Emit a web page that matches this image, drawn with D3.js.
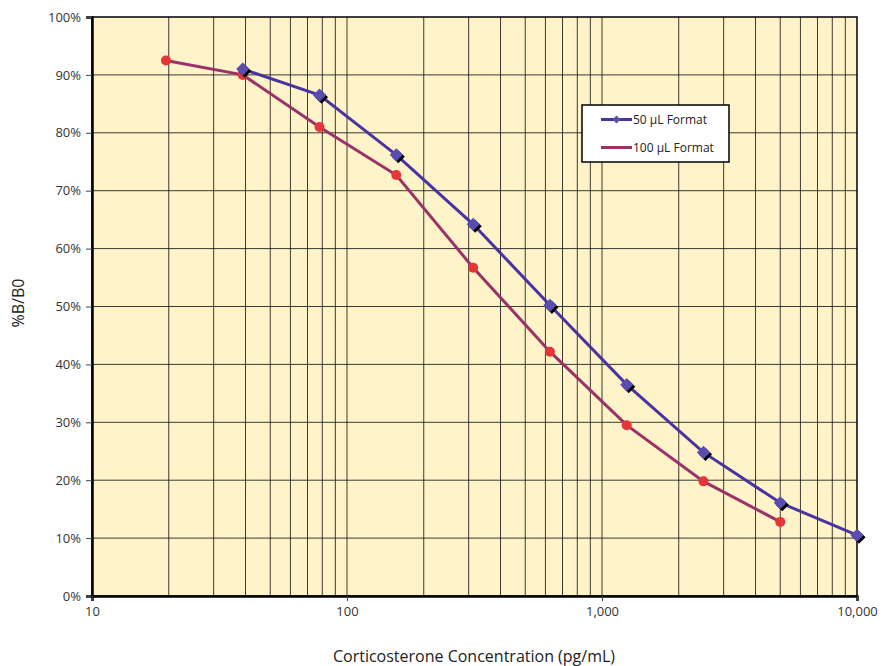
<!DOCTYPE html>
<html>
<head>
<meta charset="utf-8">
<script src="https://cdn.jsdelivr.net/npm/d3@7"></script>
<style>
  body { margin: 0; background: #fff; }
  svg text { font-family: "Open Sans", "Noto Sans", sans-serif; }
</style>
</head>
<body>
<svg id="main-svg" width="883" height="666"></svg>
<script>
// data
let conc50 = [39, 78, 156, 312.5, 625, 1250, 2500, 5000, 10000];
let bb50 = [0.91, 0.865, 0.762, 0.642, 0.502, 0.365, 0.248, 0.161, 0.105];
let conc100 = [19.5, 39, 78, 156, 312.5, 625, 1250, 2500, 5000];
let bb100 = [0.925, 0.90, 0.81, 0.727, 0.567, 0.422, 0.295, 0.198, 0.128];
let xTicks = [10, 100, 1000, 10000];
let yTicks = [0, 0.1, 0.2, 0.3, 0.4, 0.5, 0.6, 0.7, 0.8, 0.9, 1.0];
let legendNames = ["50 \u00b5L Format", "100 \u00b5L Format"];

let svg = d3.select("#main-svg");
let plotL = 92, plotR = 857, plotT = 17, plotB = 596;

let x = d3.scaleLog().domain([10, 10000]).range([plotL, plotR]);
let y = d3.scaleLinear().domain([0, 1]).range([plotB, plotT]);

// plot background
svg.append("rect")
  .attr("x", plotL).attr("y", plotT)
  .attr("width", plotR - plotL).attr("height", plotB - plotT)
  .attr("fill", "#fff4c9");

// minor + major vertical grid
let gridX = [];
for (let d = 10; d < 10000; d *= 10) {
  for (let k = 1; k <= 9; k++) gridX.push(d * k);
}
svg.append("g").selectAll("line")
  .data(gridX.filter(v => v > 10))
  .enter().append("line")
  .attr("x1", d => x(d)).attr("x2", d => x(d))
  .attr("y1", plotT).attr("y2", plotB)
  .attr("stroke", "#1a1a1a").attr("stroke-width", 1).attr("opacity", 0.85);

// horizontal grid
svg.append("g").selectAll("line")
  .data(yTicks.filter(v => v > 0 && v < 1))
  .enter().append("line")
  .attr("x1", plotL).attr("x2", plotR)
  .attr("y1", d => y(d)).attr("y2", d => y(d))
  .attr("stroke", "#1a1a1a").attr("stroke-width", 1).attr("opacity", 0.85);

// frame
svg.append("rect")
  .attr("x", plotL).attr("y", plotT)
  .attr("width", plotR - plotL).attr("height", plotB - plotT)
  .attr("fill", "none").attr("stroke", "#000").attr("stroke-width", 1.5);

// axes
let yAxis = d3.axisLeft(y).tickValues(yTicks).tickSize(6).tickPadding(5)
  .tickFormat(d3.format(".0%"));
let gy = svg.append("g").attr("transform", "translate(" + plotL + ",0)").call(yAxis);
gy.select(".domain").attr("stroke", "#000").attr("stroke-width", 2.5);
gy.selectAll(".tick line").attr("stroke", "#444");
gy.selectAll("text").attr("font-size", 13).attr("fill", "#333")
  .style("font-family", "'Open Sans', sans-serif");

let xAxis = d3.axisBottom(x).tickValues(xTicks).tickSize(5).tickPadding(6)
  .tickFormat(d3.format(","));
let gx = svg.append("g").attr("transform", "translate(0," + plotB + ")").call(xAxis);
gx.select(".domain").attr("stroke", "#000").attr("stroke-width", 2.5);
gx.selectAll(".tick line").attr("stroke", "#444");
gx.selectAll("text").attr("font-size", 13).attr("fill", "#333")
  .style("font-family", "'Open Sans', sans-serif");

// axis titles
svg.append("text")
  .attr("transform", "rotate(-90)")
  .attr("x", -303).attr("y", 24)
  .attr("text-anchor", "middle")
  .attr("font-size", 16).attr("fill", "#222")
  .text("%B/B0");

svg.append("text")
  .attr("x", 474).attr("y", 662)
  .attr("text-anchor", "middle")
  .attr("font-size", 16).attr("fill", "#222")
  .text("Corticosterone Concentration (pg/mL)");

// series
let line = d3.line().x(d => x(d[0])).y(d => y(d[1]));
let pts50 = conc50.map((c, i) => [c, bb50[i]]);
let pts100 = conc100.map((c, i) => [c, bb100[i]]);

let diamond = d3.symbol().type(d3.symbolDiamond2).size(110);

svg.append("path").datum(pts100).attr("d", line)
  .attr("fill", "none").attr("stroke", "#9a3268").attr("stroke-width", 3);
svg.append("g").selectAll("circle").data(pts100).enter().append("circle")
  .attr("cx", d => x(d[0])).attr("cy", d => y(d[1])).attr("r", 5)
  .attr("fill", "#e53538");

svg.append("path").datum(pts50).attr("d", line)
  .attr("fill", "none").attr("stroke", "#4a33a0").attr("stroke-width", 3);
svg.append("g").selectAll("path.sh").data(pts50).enter().append("path")
  .attr("class", "sh").attr("d", diamond)
  .attr("transform", d => "translate(" + (x(d[0]) + 2) + "," + (y(d[1]) + 2) + ")")
  .attr("fill", "#000");
svg.append("g").selectAll("path.dm").data(pts50).enter().append("path")
  .attr("class", "dm").attr("d", diamond)
  .attr("transform", d => "translate(" + x(d[0]) + "," + y(d[1]) + ")")
  .attr("fill", "#5a4db0");

// legend
let lg = svg.append("g").attr("transform", "translate(582,105)");
lg.append("rect").attr("width", 147).attr("height", 57)
  .attr("fill", "#fff").attr("stroke", "#000").attr("stroke-width", 1.5);
let lcol = ["#4a33a0", "#9a3268"];
legendNames.forEach(function (name, i) {
  let ly = 14.5 + i * 28;
  lg.append("line").attr("x1", 19).attr("x2", 50).attr("y1", ly).attr("y2", ly)
    .attr("stroke", lcol[i]).attr("stroke-width", 3);
  if (i == 0) {
    lg.append("path").attr("d", d3.symbol().type(d3.symbolDiamond2).size(40))
      .attr("transform", "translate(34.5," + ly + ")").attr("fill", "#5a4db0");
  }
  lg.append("text").attr("x", 51).attr("y", ly + 4.5)
    .attr("font-size", 12).attr("fill", "#222").text(name);
});
</script>
</body>
</html>
